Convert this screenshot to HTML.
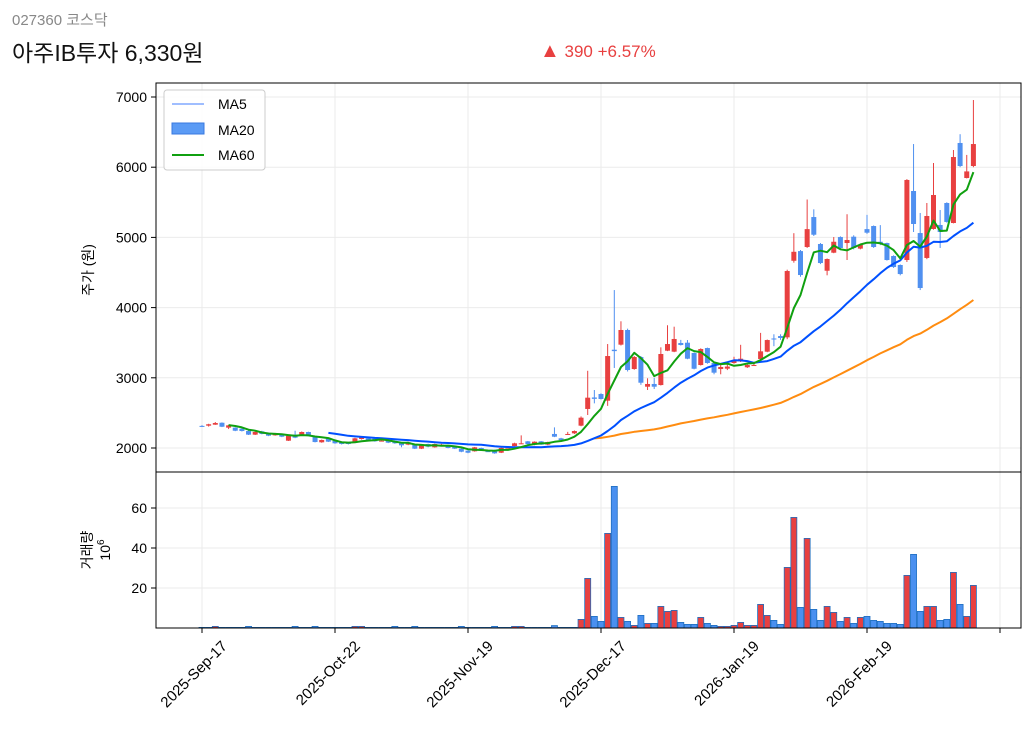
<!DOCTYPE html>
<html><head><meta charset="utf-8"><style>
body{margin:0;background:#fff;width:1032px;height:733px;overflow:hidden;font-family:"Liberation Sans","Noto Sans CJK KR",sans-serif}
svg text{font-family:"Liberation Sans","Noto Sans CJK KR",sans-serif}
</style></head><body>
<svg id="chart" width="1032" height="733" xmlns="http://www.w3.org/2000/svg">
<text x="12" y="25" font-size="15" fill="#888">027360  코스닥</text>
<text x="12" y="61" font-size="23" fill="#111">아주IB투자  6,330원</text>
<text x="540" y="57" font-size="17" fill="#e84040"><tspan font-size="20">▲</tspan> 390  +6.57%</text>
<g id="grid"></g>
<g id="marks"></g>
<rect x="156" y="83" width="865" height="389" fill="none" stroke="#000" stroke-width="1"/>
<rect x="156" y="472" width="865" height="156" fill="none" stroke="#000" stroke-width="1"/>
<text transform="translate(93,270) rotate(-90)" text-anchor="middle" font-size="14">주가 (원)</text>
<text transform="translate(92,550) rotate(-90)" text-anchor="middle" font-size="14">거래량</text>
<text transform="translate(110,550) rotate(-90)" text-anchor="middle" font-size="14">10<tspan dy="-6" font-size="10">6</tspan></text>
<g>
<rect x="164" y="90" width="101" height="80" rx="3" fill="#fff" fill-opacity="0.85" stroke="#ccc"/>
<line x1="172" y1="104" x2="204" y2="104" stroke="#0050ff" stroke-width="0.8"/>
<text x="218" y="109" font-size="14">MA5</text>
<rect x="172" y="123" width="32" height="11" fill="#5b9bf5" stroke="#3a7ae0"/>
<text x="218" y="135" font-size="14">MA20</text>
<line x1="172" y1="155" x2="204" y2="155" stroke="#10a010" stroke-width="2"/>
<text x="218" y="160" font-size="14">MA60</text>
</g>
</svg>
<script>
const opens=[2315,2318,2332,2360,2290,2290,2275,2242,2190,2237,2213,2180,2200,2104,2190,2185,2228,2157,2081,2133,2100,2090,2081,2081,2128,2138,2133,2105,2105,2090,2081,2048,2043,1990,2057,2010,2045,2028,2019,1990,1962,1953,2000,1955,1971,1933,2000,2028,2065,2095,2048,2095,2048,2200,2138,2198,2209,2318,2556,2720,2769,2674,3400,3472,3681,3125,3296,2873,2912,2897,3386,3372,3496,3500,3353,3182,3424,3211,3125,3130,3211,3235,3150,3180,3268,3372,3560,3595,3576,4667,4805,4863,5290,4906,4525,4782,5005,4920,5010,4840,5118,5162,4938,4920,4735,4607,4678,5661,5062,4707,5120,5177,5490,5205,6345,5846,6017];
const closes=[2310,2338,2356,2303,2323,2246,2242,2190,2228,2200,2175,2209,2161,2175,2147,2228,2185,2085,2114,2090,2067,2057,2057,2138,2161,2114,2095,2105,2076,2067,2038,2081,1990,2048,2019,2057,2048,2000,1990,1947,1933,2010,1981,1953,1924,2000,2005,2067,2067,2057,2090,2048,2085,2161,2114,2200,2242,2432,2717,2700,2698,3310,3380,3681,3111,3296,2930,2912,2873,3339,3481,3553,3467,3272,3129,3410,3211,3073,3154,3160,3254,3272,3182,3182,3377,3538,3550,3567,4521,4795,4464,5118,5038,4635,4692,4938,4849,4963,4849,4892,5067,4863,4906,4678,4578,4478,5818,5191,4279,5305,5604,5077,5220,6145,6017,5940,6330];
const highs=[2325,2345,2370,2365,2330,2295,2280,2250,2235,2245,2220,2215,2205,2180,2246,2235,2232,2165,2120,2140,2105,2095,2085,2145,2170,2140,2140,2115,2110,2095,2085,2090,2050,2055,2062,2062,2060,2035,2025,1995,1970,2015,2005,1965,1975,2005,2015,2075,2180,2100,2095,2100,2090,2294,2145,2230,2250,2450,3100,2826,2780,3481,4250,3805,3700,3310,3310,2993,3000,3434,3748,3728,3540,3538,3360,3420,3430,3215,3200,3220,3300,3470,3200,3200,3640,3545,3620,3620,4540,5060,4820,5540,5400,4920,4700,5005,5015,5330,5030,4900,5320,5170,5175,4925,4745,4615,5830,6330,5348,5490,6060,5390,5500,6245,6470,6175,6957];
const lows=[2300,2305,2330,2298,2270,2240,2235,2185,2185,2195,2170,2175,2155,2100,2140,2180,2180,2080,2075,2085,2060,2050,2050,2075,2120,2110,2090,2095,2070,2060,2010,2040,1985,1985,2010,2005,2040,1995,1985,1940,1925,1948,1975,1945,1918,1928,1995,2025,2060,2050,2040,2045,2040,2155,2105,2185,2200,2310,2470,2636,2690,2600,3140,3460,3090,3115,2900,2826,2840,2890,3380,3365,3460,3265,3120,3175,3200,3050,3050,3110,3200,3225,3140,3170,3260,3365,3450,3540,3550,4640,4440,4850,5020,4620,4460,4775,4830,4678,4830,4830,5050,4850,4890,4670,4565,4460,4650,5077,4250,4690,5110,4850,5210,5200,6000,5840,6000];
const volumes=[0.3,0.3,0.8,0.3,0.3,0.3,0.3,0.8,0.3,0.3,0.3,0.3,0.3,0.3,0.8,0.3,0.3,0.8,0.3,0.3,0.3,0.3,0.3,0.8,0.8,0.3,0.3,0.3,0.3,0.8,0.3,0.3,0.8,0.3,0.3,0.3,0.3,0.3,0.3,0.8,0.3,0.3,0.3,0.3,0.8,0.3,0.3,0.8,0.8,0.3,0.3,0.3,0.3,1.2,0.3,0.3,0.3,4.3,24.8,5.8,3.3,47.3,70.8,5.3,3.3,1.3,6.3,2.3,2.3,10.8,8.3,8.8,2.8,1.8,1.8,5.3,2.3,1.3,0.8,0.8,1.3,2.8,1.3,1.3,11.8,6.3,3.8,1.8,30.3,55.3,10.3,44.8,9.3,3.8,10.8,7.8,3.3,5.3,2.3,5.3,5.8,3.8,3.3,2.3,2.3,1.8,26.3,36.8,8.3,10.8,10.8,3.8,4.3,27.8,11.8,5.8,21.3];
const xTickLabels=["2025-Sep-17","2025-Oct-22","2025-Nov-19","2025-Dec-17","2026-Jan-19","2026-Feb-19",""];
const priceTicks=[2000,3000,4000,5000,6000,7000];
const volTicks=[20,40,60];

const NS="http://www.w3.org/2000/svg";
const xS=i=>202+6.65*i;
const yP=p=>448-(p-2000)*0.0702;
const yV=v=>628-v*2;
const grid=document.getElementById('grid'), marks=document.getElementById('marks');
function mk(tag,attrs,parent){const e=document.createElementNS(NS,tag);for(const k in attrs)e.setAttribute(k,attrs[k]);parent.appendChild(e);return e;}
priceTicks.forEach(t=>{
  const y=yP(t);
  const g=mk('line',{x1:156,x2:1021,y1:y,y2:y,stroke:'#ebebeb'},grid);
  
  
  mk('line',{x1:151,x2:156,y1:y,y2:y,stroke:'#000'},grid);
  const tx=mk('text',{x:147,y:y+5,'text-anchor':'end','font-size':14},grid);
  tx.textContent=t;
  
  
});
volTicks.forEach(t=>{
  const y=yV(t);
  const g=mk('line',{x1:156,x2:1021,y1:y,y2:y,stroke:'#ebebeb'},grid);
  
  
  mk('line',{x1:151,x2:156,y1:y,y2:y,stroke:'#000'},grid);
  const tx=mk('text',{x:147,y:y+5,'text-anchor':'end','font-size':14},grid);
  tx.textContent=t;
  
  
});
xTickLabels.forEach((l,k)=>{
  const x=xS(k*20);
  mk('line',{x1:x,x2:x,y1:83,y2:628,stroke:'#ebebeb'},grid);
  mk('line',{x1:x,x2:x,y1:628,y2:633,stroke:'#000'},grid);
  if(l){const tx=mk('text',{transform:`translate(${x+26},${647}) rotate(-45)`,'text-anchor':'end','font-size':15},grid);
  tx.textContent=l;
  
  }
});
const RED='#e84040', BLUE='#5090f0';
closes.forEach((c,i)=>{
  const o=opens[i], up=c>=o, col=up?RED:BLUE, x=xS(i);
  const v=mk('rect',{x:x-3,y:yV(volumes[i]),width:6,height:volumes[i]*2,fill:up?RED:'#4a90f0',stroke:'#1f6fc0','stroke-width':0.8},marks);
  
  
  const w=mk('line',{x1:x,x2:x,y1:yP(highs[i]),y2:yP(lows[i]),stroke:col,'stroke-width':1},marks);
  
  
  const top=yP(Math.max(o,c)), h=Math.max(1,yP(Math.min(o,c))-top);
  const b=mk('rect',{x:x-2.5,y:top,width:5,height:h,fill:col},marks);
  
  
});
function ma(n,color,w,name){
  let pts=[];
  for(let i=n-1;i<closes.length;i++){let s=0;for(let j=i-n+1;j<=i;j++)s+=closes[j];pts.push(xS(i).toFixed(1)+','+yP(s/n).toFixed(1));}
  const p=mk('polyline',{points:pts.join(' '),fill:'none',stroke:color,'stroke-width':w,'stroke-linejoin':'round'},marks);
  
  
}
ma(60,'#ff8c10',2,'ma60-line');
ma(20,'#0050ff',2,'ma20-line');
ma(5,'#10a010',2,'ma5-line');
</script>
</body></html>
